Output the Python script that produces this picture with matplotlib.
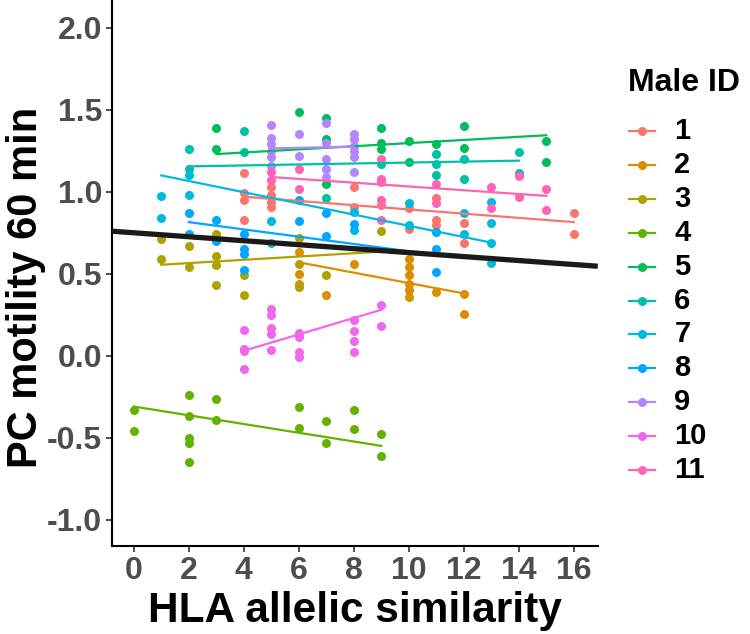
import numpy as np
import matplotlib.pyplot as plt
from matplotlib.lines import Line2D

plt.rcParams['font.family'] = ['Liberation Sans', 'DejaVu Sans']

male_ids = ['1', '2', '3', '4', '5', '6', '7', '8', '9', '10', '11']
colors = ['#F8766D', '#DB8E00', '#AEA200', '#64B200', '#00BD5C', '#00C1A7',
          '#00BADE', '#00A6FF', '#B385FF', '#EF67EB', '#FF63B6']

# HLA allelic similarity (x) and PC motility 60 min (y) per male
hla_1 = [4, 4, 4, 4, 5, 5, 5, 5, 8, 8, 10, 10, 11, 11, 11, 12, 12, 16, 16]
mot_1 = [1.115, 0.99, 0.95, 0.83, 1.03, 0.98, 0.94, 0.91, 1.03, 0.91, 0.90, 0.775,
         0.96, 0.83, 0.80, 0.81, 0.69, 0.87, 0.74]
hla_2 = [6, 6, 6, 7, 8, 10, 10, 10, 10, 10, 10, 11, 12, 12]
mot_2 = [0.63, 0.50, 0.44, 0.37, 0.56, 0.59, 0.54, 0.49, 0.44, 0.40, 0.36, 0.39, 0.375, 0.255]
hla_3 = [1, 1, 2, 2, 3, 3, 3, 3, 4, 4, 6, 6, 6, 7, 9]
mot_3 = [0.71, 0.59, 0.67, 0.54, 0.74, 0.61, 0.555, 0.43, 0.49, 0.37, 0.72, 0.56, 0.42, 0.49, 0.76]
hla_4 = [0, 0, 2, 2, 2, 2, 2, 3, 3, 6, 6, 7, 7, 8, 8, 9, 9]
mot_4 = [-0.33, -0.46, -0.24, -0.37, -0.50, -0.53, -0.65, -0.265, -0.39, -0.31, -0.44,
         -0.40, -0.53, -0.33, -0.45, -0.48, -0.61]
hla_5 = [3, 3, 6, 7, 7, 7, 9, 9, 9, 10, 10, 11, 12, 12, 15, 15]
mot_5 = [1.39, 1.26, 1.485, 1.45, 1.325, 1.05, 1.39, 1.30, 1.26, 1.31, 1.18, 1.29,
         1.40, 1.27, 1.31, 1.18]
hla_6 = [2, 2, 4, 4, 7, 9, 11, 11, 11, 12, 12, 14, 14]
mot_6 = [1.26, 1.14, 1.37, 1.24, 0.96, 1.17, 1.23, 1.17, 1.10, 1.20, 1.08, 1.24, 1.115]
hla_7 = [1, 1, 2, 2, 5, 5, 8, 8, 10, 10, 12, 12, 13, 13, 13, 13]
mot_7 = [0.975, 0.84, 1.10, 0.98, 0.82, 0.69, 0.877, 0.765, 0.93, 0.80, 0.87, 0.74,
         0.94, 0.81, 0.69, 0.565]
hla_8 = [2, 2, 3, 3, 4, 4, 4, 4, 6, 6, 7, 7, 8, 11, 11, 11]
mot_8 = [0.87, 0.74, 0.83, 0.70, 0.74, 0.65, 0.62, 0.52, 0.95, 0.82, 0.87, 0.73,
         0.805, 0.755, 0.65, 0.51]
hla_9 = [5, 5, 5, 5, 5, 5, 6, 6, 7, 7, 7, 7, 7, 8, 8, 8, 8, 8, 8]
mot_9 = [1.41, 1.33, 1.29, 1.25, 1.21, 1.16, 1.35, 1.22, 1.42, 1.30, 1.20, 1.14, 1.09,
         1.355, 1.325, 1.28, 1.25, 1.21, 1.12]
hla_10 = [4, 4, 4, 4, 5, 5, 5, 5, 5, 6, 6, 6, 6, 8, 8, 8, 8, 9, 9]
mot_10 = [0.157, 0.04, 0.027, -0.08, 0.285, 0.25, 0.17, 0.13, 0.037, 0.14, 0.116, 0.02,
          -0.006, 0.22, 0.15, 0.09, 0.024, 0.31, 0.18]
hla_11 = [5, 5, 6, 6, 9, 9, 9, 9, 9, 9, 11, 11, 13, 13, 14, 14, 15, 15]
mot_11 = [1.12, 1.07, 1.14, 1.02, 1.20, 1.08, 1.06, 0.95, 0.92, 0.83, 1.05, 0.93,
          1.03, 0.90, 1.095, 0.97, 1.02, 0.89]

# fitted line values at each male's lowest and highest similarity
fit_start = [0.97, 0.57, 0.555, -0.31, 1.23, 1.155, 1.10, 0.815, 1.265, 0.03, 1.09]
fit_end = [0.815, 0.38, 0.635, -0.55, 1.345, 1.19, 0.69, 0.615, 1.275, 0.28, 0.975]

# overall regression
overall_intercept = 0.750
overall_slope = -0.0121

hla = [hla_1, hla_2, hla_3, hla_4, hla_5, hla_6, hla_7, hla_8, hla_9, hla_10, hla_11]
mot = [mot_1, mot_2, mot_3, mot_4, mot_5, mot_6, mot_7, mot_8, mot_9, mot_10, mot_11]

fig = plt.figure(figsize=(7.5, 6.34), dpi=100)
ax = fig.add_axes([0.149, 0.139, 0.648, 0.861])

for x, y, c in zip(hla, mot, colors):
    ax.scatter(x, y, s=42, color=c, linewidths=0, zorder=2)

for x, y0, y1, c in zip(hla, fit_start, fit_end, colors):
    ax.plot([min(x), max(x)], [y0, y1], color=c, lw=1.6, zorder=3)

xlim = (-0.8, 16.87)
xs = np.array(xlim)
ax.plot(xs, overall_intercept + overall_slope * xs, color='#1a1a1a', lw=3.8, zorder=4,
        solid_capstyle='butt')

ax.set_xlim(xlim)
ax.set_ylim(-1.16, 2.17)
ax.set_xticks(range(0, 17, 2))
ax.set_yticks([-1.0, -0.5, 0.0, 0.5, 1.0, 1.5, 2.0])
ax.set_yticklabels(['-1.0', '-0.5', '0.0', '0.5', '1.0', '1.5', '2.0'])
for s in ['top', 'right']:
    ax.spines[s].set_visible(False)
for s in ['left', 'bottom']:
    ax.spines[s].set_linewidth(1.5)
ax.tick_params(length=4, width=1.2, color='#333333', labelsize=23, labelcolor='#4D4D4D',
               pad=3)
for lab in ax.get_xticklabels() + ax.get_yticklabels():
    lab.set_fontweight('bold')

ax.set_xlabel('HLA allelic similarity', fontsize=30.5, fontweight='bold', labelpad=4)
ax.set_ylabel('PC motility 60 min', fontsize=30, fontweight='bold')
ax.yaxis.set_label_coords(-0.135, 0.474)

# legend
fig.text(0.837, 1 - 83 / 634, 'Male ID', fontsize=23, fontweight='bold', va='center', ha='left')
y_top = 1 - 131 / 634
dy = 33.9 / 634
for i, (lab, c) in enumerate(zip(male_ids, colors)):
    yy = y_top - i * dy
    fig.add_artist(Line2D([0.838, 0.873], [yy, yy], color=c, lw=1.6,
                          transform=fig.transFigure))
    fig.add_artist(Line2D([0.8555], [yy], color=c, marker='o', ms=6.5, mew=0,
                          transform=fig.transFigure))
    fig.text(0.899, yy, lab, fontsize=21, fontweight='bold', va='center', ha='left')

fig.savefig('out.png', dpi=100)
